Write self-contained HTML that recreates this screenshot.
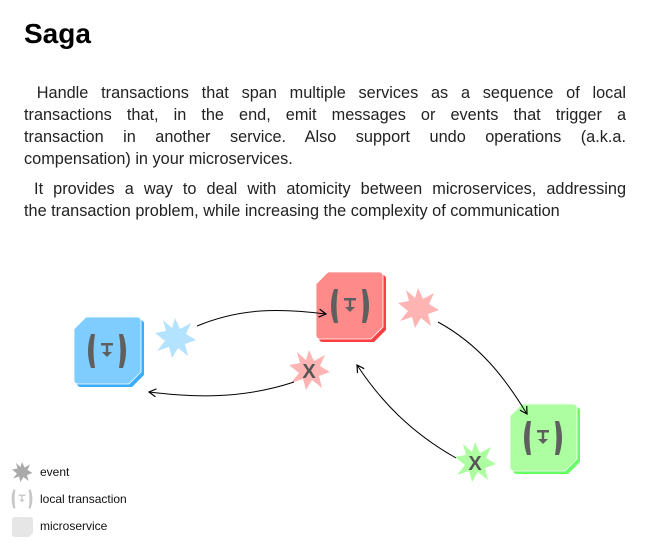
<!DOCTYPE html>
<html><head><meta charset="utf-8"><style>
body{margin:0;width:650px;height:550px;background:#fff;font-family:"Liberation Sans",sans-serif;position:relative;overflow:hidden}
h1{position:absolute;left:24px;top:18px;margin:0;font-size:28px;font-weight:bold;color:#000}
.p{position:absolute;left:24px;top:82px;width:602px;font-size:16.3px;line-height:22px;color:#222;text-align:justify}
.p div{text-align:justify;text-align-last:justify}
svg{position:absolute;left:0;top:0}
</style></head><body>
<h1>Saga</h1>
<div class="p"><div>&nbsp;Handle transactions that span multiple services as a sequence of local</div><div>transactions that, in the end, emit messages or events that trigger a</div><div>transaction in another service. Also support undo operations (a.k.a.</div><div style="text-align-last:left">compensation) in your microservices.</div><div style="margin-top:8px">&nbsp;It provides a way to deal with atomicity between microservices, addressing</div><div style="text-align-last:left">the transaction problem, while increasing the complexity of communication</div></div>
<svg width="650" height="550" viewBox="0 0 650 550">
<defs>
<marker id="a" markerWidth="10" markerHeight="10" refX="8" refY="5" orient="auto" markerUnits="userSpaceOnUse"><path d="M1,1 L8,5 L1,9" fill="none" stroke="#000" stroke-width="1.2"/></marker>
<path id="box" d="M12,0 H63 Q67,0 67,4 V55 L55,67 H4 Q0,67 0,63 V12 Z"/>
<g id="ic" fill="#5f5f5f"><path d="M-16,-17 Q-22,0 -16,17 L-12,17 Q-15,0 -12,-17 Z"/><path d="M16,-17 Q22,0 16,17 L12,17 Q15,0 12,-17 Z"/><rect x="-6" y="-8" width="12" height="2.5"/><rect x="-1.2" y="-7" width="2.4" height="9"/><path d="M-5,1 H5 L0,6 Z"/></g>
<path id="st" d="M0,-20 L5,-9 L16,-15 L11,-4 L21,2 L10,6 L13,18 L3,10 L-3,20 L-6,9 L-18,13 L-10,3 L-20,-5 L-9,-7 L-12,-18 L-3,-10 Z"/>
</defs>
<g transform="translate(74,317)"><use href="#box" x="3" y="3" fill="#3aaefc"/><use href="#box" fill="#7fcdff" stroke="#fff" stroke-width="0.8"/><use href="#ic" x="33" y="34"/></g>
<g transform="translate(316,272)"><use href="#box" x="3" y="3" fill="#ff3f3f"/><use href="#box" fill="#ff8a8a" stroke="#fff" stroke-width="0.8"/><use href="#ic" x="34" y="34"/></g>
<g transform="translate(510,404)"><use href="#box" x="3" y="3" fill="#66ff66"/><use href="#box" fill="#acfea0" stroke="#fff" stroke-width="0.8"/><use href="#ic" x="33" y="34"/></g>
<use href="#st" x="175" y="338" fill="#b4e3ff"/>
<use href="#st" x="418" y="308" fill="#ffb4b4"/>
<use href="#st" x="309" y="370" fill="#ffb4b4"/>
<text x="309" y="378" font-size="20" font-weight="bold" fill="#555" text-anchor="middle">X</text>
<use href="#st" x="475" y="462" fill="#acfea0"/>
<text x="475" y="470" font-size="20" font-weight="bold" fill="#555" text-anchor="middle">X</text>
<g fill="none" stroke="#000" stroke-width="1">
<path d="M197,326 C240,308 280,308 326,314" marker-end="url(#a)"/>
<path d="M294,382 C240,400 190,397 149,392" marker-end="url(#a)"/>
<path d="M438,322 C480,345 505,378 527,414" marker-end="url(#a)"/>
<path d="M456,458 C410,432 380,400 357,365" marker-end="url(#a)"/>
</g>
<use href="#st" transform="translate(22,472) scale(0.5)" fill="#aaa"/>
<text x="40" y="476" font-size="12" fill="#111">event</text>
<g transform="translate(22,499) scale(0.55)" fill="#c8c8c8"><path d="M-16,-17 Q-22,0 -16,17 L-12,17 Q-15,0 -12,-17 Z"/><path d="M16,-17 Q22,0 16,17 L12,17 Q15,0 12,-17 Z"/><rect x="-6" y="-8" width="12" height="2.5"/><rect x="-1.2" y="-7" width="2.4" height="9"/><path d="M-5,1 H5 L0,6 Z"/></g>
<text x="40" y="503" font-size="12" fill="#111">local transaction</text>
<path d="M15,517 H30 Q33,517 33,520 V533 L29,537 H15 Q12,537 12,534 V520 Q12,517 15,517 Z" fill="#e6e6e6"/>
<text x="40" y="530" font-size="12" fill="#111">microservice</text>
</svg>
</body></html>
